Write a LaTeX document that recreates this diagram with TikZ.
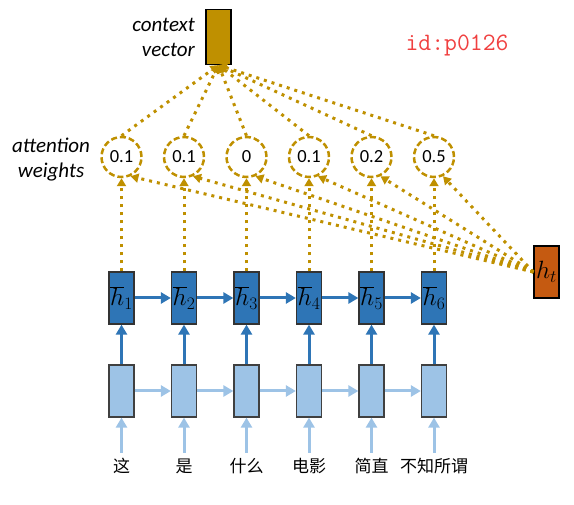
\RequirePackage{fix-cm}
\documentclass[tikz,border=0pt]{standalone}
\usepackage{fontspec}
\setmainfont{Carlito}
\newfontfamily\cjk{Noto Sans CJK SC}
\usetikzlibrary{arrows.meta}
\definecolor{gold}{RGB}{191,144,0}
\definecolor{dblue}{RGB}{46,117,182}
\definecolor{lblue}{RGB}{157,195,230}
\definecolor{htorange}{RGB}{197,90,17}
\definecolor{idred}{RGB}{240,64,64}
\begin{document}
\begin{tikzpicture}[x=1pt,y=-1pt,
  hbox/.style={draw=black!80, line width=1.2pt, fill=dblue, minimum width=25pt, minimum height=52pt, inner sep=0pt, font=\fontsize{25}{28}\selectfont},
  ebox/.style={draw=black!75, line width=1.2pt, fill=lblue, minimum width=25pt, minimum height=52pt, inner sep=0pt},
  wcirc/.style={draw=gold, circle, minimum size=40pt, inner sep=0pt, line width=2.5pt, dash pattern=on 6pt off 3pt, font=\fontsize{18.5}{20}\selectfont},
  dotline/.style={draw=gold, line width=3pt, dash pattern=on 3pt off 5pt, -{Triangle[length=8pt,width=9pt]}},
  darrow/.style={draw=dblue, line width=3pt, -{Triangle[length=10pt,width=11pt]}},
  larrow/.style={draw=lblue, line width=3pt, -{Triangle[length=10pt,width=11pt]}},
  word/.style={font=\cjk\fontsize{17}{19}\selectfont, text height=15pt, text depth=3pt, inner xsep=1pt, inner ysep=5pt},
  lab/.style={font=\itshape\fontsize{21}{25}\selectfont, inner sep=0pt}
]
\useasboundingbox (0,0) rectangle (574,505);

\foreach \i/\x/\v/\w in {1/121.5/0.1/这, 2/184/0.1/是, 3/246.5/0/什么, 4/309/0.1/电影, 5/371.5/0.2/简直, 6/434/0.5/不知所谓} {
  \node[hbox] (h\i) at (\x,298) {$\overline{h}_{\i}$};
  \node[ebox] (e\i) at (\x,391) {};
  \node[wcirc] (c\i) at (\x,157) {\v};
  \node[word] (w\i) at (\x,467) {\w};
}

\node[draw=black, line width=1.2pt, fill=gold, minimum width=25pt, minimum height=55pt, inner sep=0pt] (ctx) at (218.5,37) {};
\node[draw=black, line width=1.2pt, fill=htorange, minimum width=25pt, minimum height=52pt, inner sep=0pt, font=\fontsize{25}{28}\selectfont] (ht) at (546.5,272) {$h_t$};

\node[lab, align=right, anchor=east] (cvlab) at (195,37) {context\\vector};
\node[lab, align=center] (awlab) at (51,160) {attention\\weights};
\node[font=\ttfamily\fontsize{25}{28}\selectfont, text=idred, inner sep=0pt] (id) at (457,45) {id:p0126};

\foreach \i in {1,...,6} {
  \draw[larrow] (w\i.north) -- (e\i.south);
  \draw[darrow] (e\i.north) -- (h\i.south);
  \draw[dotline] (h\i.north) -- (c\i.south);
  \draw[dotline] (ht.west) -- (c\i.-65);
  \draw[dotline] (c\i.north) -- (ctx.south);
}
\foreach \i [evaluate=\i as \j using int(\i+1)] in {1,...,5} {
  \draw[darrow] (h\i.east) -- (h\j.west);
  \draw[larrow] (e\i.east) -- (e\j.west);
}
\end{tikzpicture}
\end{document}
